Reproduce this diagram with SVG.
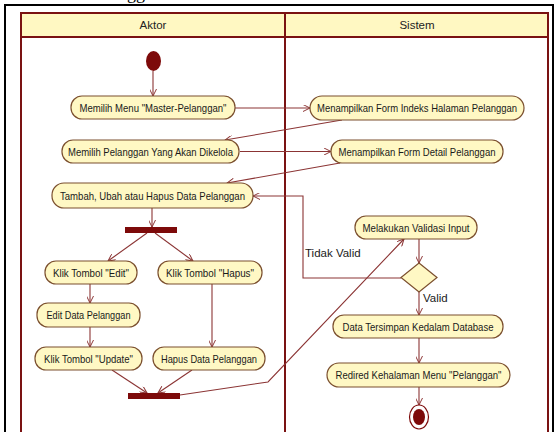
<svg xmlns="http://www.w3.org/2000/svg" width="558" height="432" viewBox="0 0 558 432">
  <style>
    .frame { fill: none; stroke: #7a1212; stroke-width: 2; }
    .head { fill: #fff8c2; stroke: #7a1212; stroke-width: 2; }
    .node rect { fill: #fff8c4; stroke: #7b4f2e; stroke-width: 1.2; }
    .lbl { font-family: "Liberation Sans", Arial, sans-serif; font-size: 11px; fill: #1a1a1a; text-anchor: middle; }
    .hdr { font-family: "Liberation Sans", Arial, sans-serif; font-size: 11.5px; fill: #222; text-anchor: middle; }
    .edge { fill: none; stroke: #8b3434; stroke-width: 1.1; marker-end: url(#arr); }
    .bar { fill: #7d0a0a; }
    .guard { font-family: "Liberation Sans", Arial, sans-serif; font-size: 11.5px; fill: #1a1a1a; }
  </style>
  <defs>
    <marker id="arr" viewBox="0 0 10 10" refX="10" refY="5" markerWidth="8" markerHeight="7" markerUnits="userSpaceOnUse" orient="auto">
      <path d="M0,0 L10,5 L0,10" fill="none" stroke="#8b3434" stroke-width="1.4"/>
    </marker>
  </defs>

  <rect width="558" height="432" fill="#ffffff"/>

  <!-- caption above the frame, cut by the page edge -->
  <text x="87" y="-1" font-family="'Liberation Serif', 'Times New Roman', serif" font-size="18" fill="#000">Pelanggan</text>

  <!-- outer page border -->
  <rect x="5" y="5" width="548" height="440" fill="none" stroke="#000" stroke-width="2"/>

  <!-- swimlanes -->
  <g id="lanes">
    <rect class="head" x="21" y="13" width="527" height="24"/>
    <rect class="frame" x="21" y="13" width="527" height="430"/>
    <line x1="285" y1="13" x2="285" y2="432" stroke="#7a1212" stroke-width="2"/>
    <text class="hdr" x="153" y="29">Aktor</text>
    <text class="hdr" x="417" y="29">Sistem</text>
  </g>

  <!-- connectors -->
  <g id="connectors">
    <line class="edge" x1="153" y1="71" x2="153" y2="96"/>
    <line class="edge" x1="235" y1="108" x2="310" y2="108"/>
    <line class="edge" x1="342" y1="120" x2="225" y2="140"/>
    <line class="edge" x1="240" y1="151.5" x2="331" y2="151.5"/>
    <line class="edge" x1="340" y1="163" x2="227" y2="183"/>
    <line class="edge" x1="152" y1="208" x2="152" y2="227"/>
    <line class="edge" x1="147" y1="233" x2="108" y2="261"/>
    <line class="edge" x1="155" y1="233" x2="193" y2="261"/>
    <line class="edge" x1="90" y1="284" x2="90" y2="303"/>
    <line class="edge" x1="90" y1="327" x2="90" y2="347"/>
    <line class="edge" x1="212" y1="284" x2="212" y2="347"/>
    <line class="edge" x1="112" y1="370" x2="147" y2="393"/>
    <line class="edge" x1="192" y1="370" x2="158" y2="393"/>
    <polyline class="edge" points="180,395 268,382 404,239"/>
    <line class="edge" x1="419" y1="239" x2="419" y2="263"/>
    <polyline class="edge" points="401,278 303,278 303,196 253,196"/>
    <line class="edge" x1="419" y1="292" x2="419" y2="315"/>
    <line class="edge" x1="419" y1="338" x2="419" y2="363"/>
    <line class="edge" x1="419" y1="387" x2="419" y2="405"/>
    <text class="guard" x="305" y="257">Tidak Valid</text>
    <text class="guard" x="423" y="302">Valid</text>
  </g>

  <!-- aktor lane -->
  <g id="start"><ellipse cx="153.5" cy="61" rx="7.5" ry="10" fill="#7d0a0a"/></g>

  <g id="pilih-menu" class="node">
    <rect x="71" y="96" width="164" height="23" rx="11" ry="11"/>
    <text class="lbl" x="153" y="111.5" textLength="147" lengthAdjust="spacingAndGlyphs">Memilih Menu "Master-Pelanggan"</text>
  </g>
  <g id="pilih-pelanggan" class="node">
    <rect x="62" y="140" width="177" height="23" rx="11" ry="11"/>
    <text class="lbl" x="150.5" y="155.5" textLength="165" lengthAdjust="spacingAndGlyphs">Memilih Pelanggan Yang Akan Dikelola</text>
  </g>
  <g id="kelola-data" class="node">
    <rect x="52" y="183" width="201" height="25" rx="12" ry="12"/>
    <text class="lbl" x="152.5" y="199.5" textLength="185" lengthAdjust="spacingAndGlyphs">Tambah, Ubah atau Hapus Data Pelanggan</text>
  </g>
  <g id="fork"><rect class="bar" x="125" y="227" width="52" height="6"/></g>
  <g id="klik-edit" class="node">
    <rect x="45" y="261" width="92" height="23" rx="11" ry="11"/>
    <text class="lbl" x="91" y="276.5" textLength="76" lengthAdjust="spacingAndGlyphs">Klik Tombol "Edit"</text>
  </g>
  <g id="klik-hapus" class="node">
    <rect x="158" y="261" width="104" height="23" rx="11" ry="11"/>
    <text class="lbl" x="210" y="276.5" textLength="88" lengthAdjust="spacingAndGlyphs">Klik Tombol "Hapus"</text>
  </g>
  <g id="edit-data" class="node">
    <rect x="37" y="303" width="103" height="24" rx="11" ry="11"/>
    <text class="lbl" x="88.5" y="319" textLength="84" lengthAdjust="spacingAndGlyphs">Edit Data Pelanggan</text>
  </g>
  <g id="klik-update" class="node">
    <rect x="35" y="347" width="107" height="23" rx="11" ry="11"/>
    <text class="lbl" x="88.5" y="362.5" textLength="89" lengthAdjust="spacingAndGlyphs">Klik Tombol "Update"</text>
  </g>
  <g id="hapus-data" class="node">
    <rect x="153" y="347" width="112" height="23" rx="11" ry="11"/>
    <text class="lbl" x="209" y="362.5" textLength="96" lengthAdjust="spacingAndGlyphs">Hapus Data Pelanggan</text>
  </g>
  <g id="join"><rect class="bar" x="128" y="393" width="52" height="6"/></g>

  <!-- sistem lane -->
  <g id="form-indeks" class="node">
    <rect x="310" y="96" width="214" height="24" rx="12" ry="12"/>
    <text class="lbl" x="417" y="112" textLength="200" lengthAdjust="spacingAndGlyphs">Menampilkan Form Indeks Halaman Pelanggan</text>
  </g>
  <g id="form-detail" class="node">
    <rect x="331" y="140" width="172" height="23" rx="11" ry="11"/>
    <text class="lbl" x="417" y="155.5" textLength="157" lengthAdjust="spacingAndGlyphs">Menampilkan Form Detail Pelanggan</text>
  </g>
  <g id="validasi" class="node">
    <rect x="355" y="216" width="122" height="23" rx="11" ry="11"/>
    <text class="lbl" x="416" y="231.5" textLength="107" lengthAdjust="spacingAndGlyphs">Melakukan Validasi Input</text>
  </g>
  <g id="decision"><polygon points="419,263 437,277.5 419,292 401,277.5" fill="#fff8c4" stroke="#7b4f2e" stroke-width="1.2"/></g>
  <g id="simpan" class="node">
    <rect x="333" y="315" width="170" height="23" rx="11" ry="11"/>
    <text class="lbl" x="418" y="330.5" textLength="151" lengthAdjust="spacingAndGlyphs">Data Tersimpan Kedalam Database</text>
  </g>
  <g id="redirect" class="node">
    <rect x="327" y="363" width="183" height="24" rx="12" ry="12"/>
    <text class="lbl" x="418.5" y="379" textLength="166" lengthAdjust="spacingAndGlyphs">Redired Kehalaman Menu "Pelanggan"</text>
  </g>
  <g id="end">
    <ellipse cx="419" cy="417" rx="9.5" ry="12" fill="#fff" stroke="#7d0a0a" stroke-width="1.2"/>
    <ellipse cx="419" cy="417" rx="6" ry="8" fill="#7d0a0a"/>
  </g>
</svg>
